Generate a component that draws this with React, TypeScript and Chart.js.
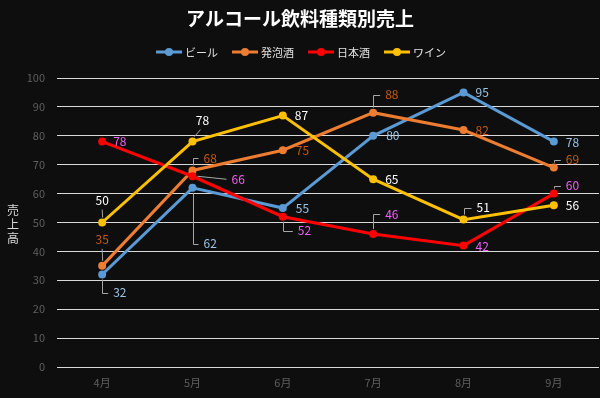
import React, { useEffect, useRef } from "react";
import { Chart, registerables } from "chart.js";

Chart.register(...registerables);

const TITLE = "アルコール飲料種類別売上";
const Y_TITLE = ["売", "上", "高"];
const MONTHS = ["4月", "5月", "6月", "7月", "8月", "9月"];
const SERIES_NAMES = ["ビール", "発泡酒", "日本酒", "ワイン"];
const BEER = [32, 62, 55, 80, 95, 78];
const HAPPOSHU = [35, 68, 75, 88, 82, 69];
const SAKE = [78, 66, 52, 46, 42, 60];
const WINE = [50, 78, 87, 65, 51, 56];
const Y_MIN = 0;
const Y_MAX = 100;
const Y_STEP = 10;

const LINE_COLORS = ["#5b9bd5", "#ed7d31", "#ff0000", "#ffc000"];
const LABEL_COLORS = ["#9dc3e6", "#c55a11", "#f060f0", "#ffffff"];
const FONT = "'Noto Sans CJK JP', 'Noto Sans', sans-serif";

// label placement: [dx, dy, kind]  kind: r = right, e = elbow, c = centered above, l = straight line
type Place = [number, number, string];
const PLACES: Place[][] = [
  [[11, 18, "e"], [11, 56, "e"], [13, 0, "r"], [13, 0, "r"], [12, 0, "r"], [12, 1, "r"]],
  [[0, -26, "c"], [11, -12, "e"], [13, 0, "r"], [12, -18, "e"], [12, 0, "r"], [12, -8, "e"]],
  [[11, 0, "r"], [39, 3, "l"], [15, 14, "e"], [12, -20, "e"], [12, 1, "r"], [12, -8, "e"]],
  [[0, -22, "c"], [10, -21, "c"], [12, 0, "r"], [12, 0, "r"], [13, -12, "e"], [12, 0, "r"]],
];

const bgPlugin = {
  id: "bg",
  beforeDraw(chart: any) {
    const c = chart.ctx;
    c.save();
    c.fillStyle = "#0e0e0e";
    c.fillRect(0, 0, chart.width, chart.height);
    c.restore();
  },
};

const decorPlugin = {
  id: "decor",
  afterDraw(chart: any) {
    const c = chart.ctx;
    c.save();
    // title
    c.fillStyle = "#ffffff";
    c.font = `bold 19px ${FONT}`;
    c.textAlign = "center";
    c.textBaseline = "middle";
    c.fillText(TITLE, 300, 19);

    // legend
    c.font = `11px ${FONT}`;
    const lineW = 26;
    const gapText = 3;
    const gapItem = 14;
    const widths = SERIES_NAMES.map((n) => c.measureText(n).width);
    let total = 0;
    widths.forEach((w, i) => {
      total += lineW + gapText + w + (i < widths.length - 1 ? gapItem : 0);
    });
    let x = 300 - total / 2 + 1;
    const ly = 52;
    SERIES_NAMES.forEach((n, i) => {
      c.strokeStyle = LINE_COLORS[i];
      c.lineWidth = 3;
      c.beginPath();
      c.moveTo(x, ly);
      c.lineTo(x + lineW, ly);
      c.stroke();
      c.fillStyle = LINE_COLORS[i];
      c.beginPath();
      c.arc(x + lineW / 2, ly, 4, 0, Math.PI * 2);
      c.fill();
      c.fillStyle = "#e0e0e0";
      c.textAlign = "left";
      c.fillText(n, x + lineW + gapText, ly + 1);
      x += lineW + gapText + widths[i] + gapItem;
    });

    // y title (stacked)
    c.font = `12px ${FONT}`;
    c.fillStyle = "#d9d9d9";
    c.textAlign = "center";
    Y_TITLE.forEach((ch, i) => {
      c.fillText(ch, 13, 210 + i * 14);
    });

    // data labels
    c.font = `12px ${FONT}`;
    c.lineWidth = 1;
    chart.data.datasets.forEach((ds: any, di: number) => {
      const meta = chart.getDatasetMeta(di);
      meta.data.forEach((pt: any, j: number) => {
        const px = pt.x;
        const py = pt.y;
        const [dx, dy, kind] = PLACES[di][j];
        const text = String(ds.data[j]);
        const lx = px + dx;
        const lyy = py + dy;
        c.strokeStyle = "#a6a6a6";
        c.beginPath();
        if (kind === "e") {
          const sgn = dy > 0 ? 1 : -1;
          c.moveTo(Math.round(px) + 0.5, py + sgn * 5);
          c.lineTo(Math.round(px) + 0.5, Math.round(lyy) + 0.5);
          c.lineTo(lx - 5, Math.round(lyy) + 0.5);
          c.stroke();
        } else if (kind === "c") {
          const ty = lyy + 9;
          const sx = px + (dx > 0 ? 2 : 0.5);
          c.moveTo(sx, py - 5);
          c.lineTo(px + dx * 0.8, ty);
          c.stroke();
        } else if (kind === "l") {
          c.moveTo(px + 5, py);
          c.lineTo(lx - 5, lyy);
          c.stroke();
        }
        c.fillStyle = LABEL_COLORS[di];
        c.textBaseline = "middle";
        c.textAlign = kind === "c" ? "center" : "left";
        c.fillText(text, lx, lyy);
      });
    });
    c.restore();
  },
};

export default function App() {
  const ref = useRef<HTMLCanvasElement | null>(null);
  useEffect(() => {
    if (!ref.current) return;
    const seriesData = [BEER, HAPPOSHU, SAKE, WINE];
    const orders = [3, 2, 1, 0];
    const chart = new Chart(ref.current, {
      type: "line",
      data: {
        labels: MONTHS,
        datasets: seriesData.map((d, i) => ({
          label: SERIES_NAMES[i],
          data: d,
          borderColor: LINE_COLORS[i],
          backgroundColor: LINE_COLORS[i],
          pointBackgroundColor: LINE_COLORS[i],
          pointBorderColor: LINE_COLORS[i],
          pointBorderWidth: 0,
          pointRadius: 4,
          borderWidth: 3,
          tension: 0,
          order: orders[i],
        })),
      },
      options: {
        animation: false,
        responsive: false,
        maintainAspectRatio: false,
        layout: { autoPadding: false, padding: { top: 78, left: 0, right: 1, bottom: 0 } },
        plugins: {
          legend: { display: false },
          title: { display: false },
          tooltip: { enabled: false },
        },
        scales: {
          x: {
            offset: true,
            grid: { display: false, drawTicks: false },
            border: { display: false },
            ticks: { color: "#5f5f5f", font: { family: FONT, size: 11 }, padding: 9 },
            afterFit: (s: any) => {
              s.height = 31;
              s.paddingLeft = 0;
              s.paddingRight = 0;
            },
          },
          y: {
            min: Y_MIN,
            max: Y_MAX,
            grid: { color: "#d9d9d9", lineWidth: 1, drawTicks: false },
            border: { display: false },
            ticks: {
              stepSize: Y_STEP,
              color: "#5f5f5f",
              font: { family: FONT, size: 11 },
              padding: 12,
            },
            afterFit: (s: any) => {
              s.width = 57;
              s.paddingTop = 0;
              s.paddingBottom = 0;
            },
          },
        },
      },
      plugins: [bgPlugin, decorPlugin],
    });
    return () => chart.destroy();
  }, []);
  return (
    <div style={{ position: "fixed", left: 0, top: 0, width: 600, height: 398, background: "#0e0e0e" }}>
      <canvas ref={ref} width={600} height={398} style={{ display: "block", width: 600, height: 398 }} />
    </div>
  );
}
